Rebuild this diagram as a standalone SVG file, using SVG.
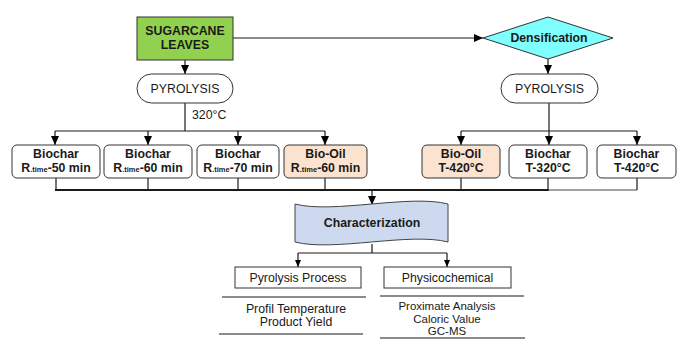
<svg xmlns="http://www.w3.org/2000/svg" width="684" height="348" viewBox="0 0 684 348">
<style>
text{font-family:"Liberation Sans",Arial,sans-serif;fill:#1a1a1a;text-anchor:middle}
.b{font-weight:bold;font-size:12.3px}
.n{font-size:12.3px}
.li{font-size:11.5px}
.box{fill:#fff;stroke:#333;stroke-width:1}
.oil{fill:#FBE3D0;stroke:#333;stroke-width:1}
.ln{stroke:#1a1a1a;stroke-width:1.2;fill:none}
.sub{font-size:7.5px}
</style>
<defs>
<marker id="ah" markerUnits="userSpaceOnUse" markerWidth="10" markerHeight="9" refX="9" refY="4" orient="auto">
<path d="M0,0 L9,4 L0,8 z" fill="#000"/>
</marker>
<marker id="as" markerUnits="userSpaceOnUse" markerWidth="8" markerHeight="7" refX="7" refY="3" orient="auto">
<path d="M0,0 L7,3 L0,6 z" fill="#000"/>
</marker>
</defs>
<rect width="684" height="348" fill="#fff"/>
<g id="connectors">
<line class="ln" x1="185" y1="60" x2="185" y2="74" marker-end="url(#ah)"/>
<line class="ln" x1="233" y1="38" x2="483" y2="38" marker-end="url(#ah)"/>
<line class="ln" x1="548" y1="59" x2="548" y2="74" marker-end="url(#ah)"/>
<line class="ln" x1="185" y1="103" x2="185" y2="131"/>
<line class="ln" x1="55" y1="131" x2="325" y2="131"/>
<line class="ln" x1="55" y1="131" x2="55" y2="145" marker-end="url(#ah)"/>
<line class="ln" x1="148" y1="131" x2="148" y2="145" marker-end="url(#ah)"/>
<line class="ln" x1="238" y1="131" x2="238" y2="145" marker-end="url(#ah)"/>
<line class="ln" x1="325" y1="131" x2="325" y2="145" marker-end="url(#ah)"/>
<line class="ln" x1="549" y1="103" x2="549" y2="131"/>
<line class="ln" x1="461" y1="131" x2="637" y2="131"/>
<line class="ln" x1="461" y1="131" x2="461" y2="145" marker-end="url(#ah)"/>
<line class="ln" x1="549" y1="131" x2="549" y2="145" marker-end="url(#ah)"/>
<line class="ln" x1="637" y1="131" x2="637" y2="145" marker-end="url(#ah)"/>
<line class="ln" x1="56" y1="178" x2="56" y2="190"/>
<line class="ln" x1="148" y1="178" x2="148" y2="190"/>
<line class="ln" x1="238" y1="178" x2="238" y2="190"/>
<line class="ln" x1="325" y1="178" x2="325" y2="190"/>
<line class="ln" x1="461" y1="178" x2="461" y2="190"/>
<line class="ln" x1="548" y1="178" x2="548" y2="190"/>
<line class="ln" x1="637" y1="178" x2="637" y2="190"/>
<line x1="55" y1="190" x2="549" y2="190" stroke="#1a1a1a" stroke-width="1.8"/>
<line x1="548" y1="190" x2="637" y2="190" stroke="#444" stroke-width="1.2"/>
<line class="ln" x1="372" y1="190" x2="372" y2="205" marker-end="url(#ah)"/>
<line class="ln" x1="372" y1="244" x2="372" y2="253"/>
<line class="ln" x1="298" y1="253" x2="447" y2="253"/>
<line class="ln" x1="298" y1="253" x2="298" y2="267" marker-end="url(#as)"/>
<line class="ln" x1="447" y1="253" x2="447" y2="267" marker-end="url(#as)"/>
<line class="ln" x1="222" y1="297" x2="366" y2="297"/>
<line class="ln" x1="219" y1="334" x2="363" y2="334"/>
<line class="ln" x1="380" y1="296" x2="524" y2="296"/>
<line class="ln" x1="380" y1="338" x2="525" y2="338"/>
</g>
<g id="sugarcane">
<rect x="137" y="17" width="96" height="43" fill="#92D050" stroke="#333" stroke-width="1"/>
<text class="b" x="185" y="35">SUGARCANE</text>
<text class="b" x="185" y="49">LEAVES</text>
</g>
<g id="densification">
<path d="M483,38 L548,17 L613,38 L548,59 Z" fill="#80FFFF" stroke="#333" stroke-width="1"/>
<text class="b" x="549" y="42">Densification</text>
</g>
<g id="pyrolysis1">
<rect x="137" y="74" width="96" height="29" rx="14.5" class="box"/>
<text class="n" x="185" y="92.5">PYROLYSIS</text>
</g>
<text class="n" x="192" y="119" style="text-anchor:start">320°C</text>
<g id="pyrolysis2">
<rect x="501" y="74" width="97" height="29" rx="14.5" class="box"/>
<text class="n" x="549.5" y="92.5">PYROLYSIS</text>
</g>
<g id="biochar50">
<rect x="12" y="145" width="88" height="33" rx="5" class="box"/>
<text class="b" x="56" y="158">Biochar</text>
<text class="b" x="56" y="172">R<tspan class="sub">.time</tspan>-50 min</text>
</g>
<g id="biochar60">
<rect x="104" y="145" width="88" height="33" rx="5" class="box"/>
<text class="b" x="148" y="158">Biochar</text>
<text class="b" x="148" y="172">R<tspan class="sub">.time</tspan>-60 min</text>
</g>
<g id="biochar70">
<rect x="197" y="145" width="82" height="33" rx="5" class="box"/>
<text class="b" x="238" y="158">Biochar</text>
<text class="b" x="238" y="172">R<tspan class="sub">.time</tspan>-70 min</text>
</g>
<g id="biooil60">
<rect x="284" y="145" width="83" height="33" rx="5" class="oil"/>
<text class="b" x="325.5" y="158">Bio-Oil</text>
<text class="b" x="325.5" y="172">R<tspan class="sub">.time</tspan>-60 min</text>
</g>
<g id="biooil420">
<rect x="422" y="145" width="78" height="33" rx="5" class="oil"/>
<text class="b" x="461" y="158">Bio-Oil</text>
<text class="b" x="461" y="172">T-420°C</text>
</g>
<g id="biochar320">
<rect x="509" y="145" width="78" height="33" rx="5" class="box"/>
<text class="b" x="548" y="158">Biochar</text>
<text class="b" x="548" y="172">T-320°C</text>
</g>
<g id="biochar420">
<rect x="597" y="145" width="79" height="33" rx="5" class="box"/>
<text class="b" x="636.5" y="158">Biochar</text>
<text class="b" x="636.5" y="172">T-420°C</text>
</g>
<g id="characterization">
<path d="M295,204 C333,214 410,194 448,204 L448,242 C410,232 333,252 295,242 Z" fill="#CDD9EF" stroke="#444" stroke-width="1"/>
<text class="b" x="372" y="227">Characterization</text>
</g>
<g id="pyrolysisprocess">
<rect x="235" y="267" width="126" height="21" fill="#fff" stroke="#333" stroke-width="1"/>
<text class="n" x="298" y="282">Pyrolysis Process</text>
</g>
<g id="physicochemical">
<rect x="384" y="267" width="127" height="21" fill="#fff" stroke="#333" stroke-width="1"/>
<text class="n" x="447.5" y="282">Physicochemical</text>
</g>
<g id="pp-items">
<text class="n" x="296" y="313">Profil Temperature</text>
<text class="n" x="296" y="326">Product Yield</text>
</g>
<g id="pc-items">
<text class="li" x="447" y="310">Proximate Analysis</text>
<text class="li" x="447" y="322.5">Caloric Value</text>
<text class="li" x="447" y="335">GC-MS</text>
</g>
</svg>
